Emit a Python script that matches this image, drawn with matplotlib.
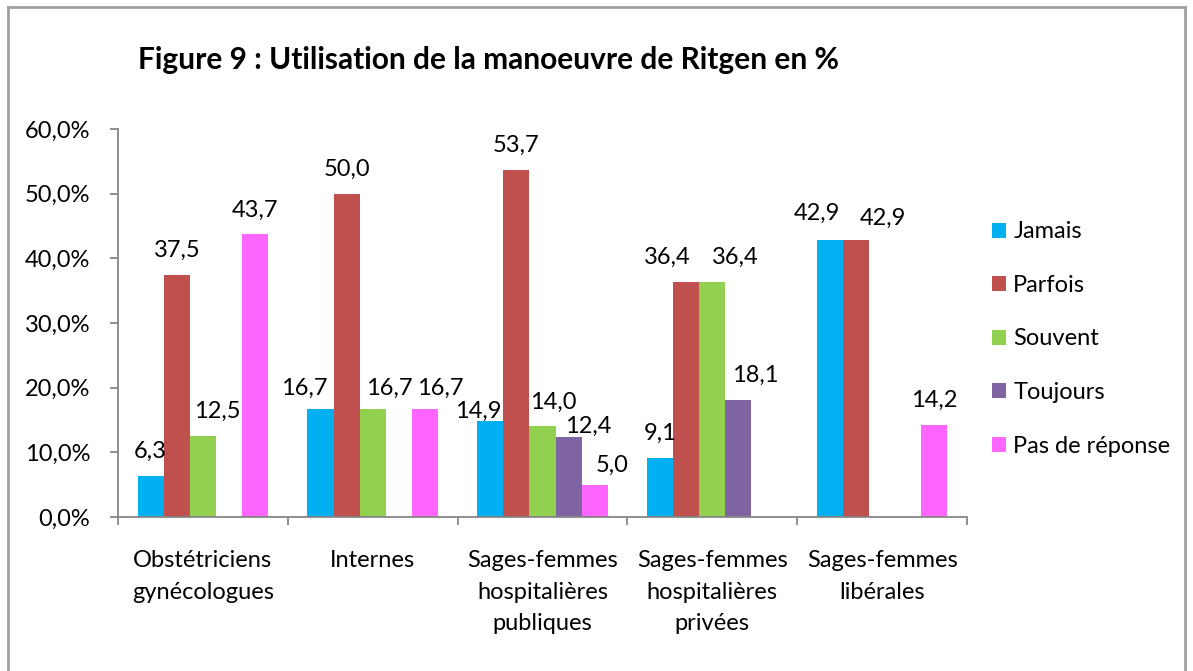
import matplotlib
matplotlib.use("Agg")
import matplotlib.pyplot as plt
from matplotlib.lines import Line2D
from matplotlib.patches import Patch

plt.rcParams['font.family'] = ['Lato', 'DejaVu Sans']

categories = ["Obstétriciens\ngynécologues", "Internes",
              "Sages-femmes\nhospitalières\npubliques",
              "Sages-femmes\nhospitalières\nprivées",
              "Sages-femmes\nlibérales"]
series_names = ["Jamais", "Parfois", "Souvent", "Toujours", "Pas de réponse"]
jamais = [6.3, 16.7, 14.9, 9.1, 42.9]
parfois = [37.5, 50.0, 53.7, 36.4, 42.9]
souvent = [12.5, 16.7, 14.0, 36.4, 0.0]
toujours = [0.0, 0.0, 12.4, 18.1, 0.0]
pas_de_reponse = [43.7, 16.7, 5.0, 0.0, 14.2]
y_ticks = [0, 10, 20, 30, 40, 50, 60]
title = "Figure 9 : Utilisation de la manoeuvre de Ritgen en %"

colors = ["#00B0F0", "#C0504D", "#92D050", "#8064A2", "#FF66FF"]
all_series = [jamais, parfois, souvent, toujours, pas_de_reponse]

# manual label nudges (pixels) keyed by (series, category)
label_nudges = {
    (2, 0): (14, 0),
    (0, 1): (-16, -4), (2, 1): (17, -4), (4, 1): (15, -4),
    (0, 2): (-12, -15), (2, 2): (11, 0), (3, 2): (20, -14), (4, 2): (17, -5),
    (1, 3): (-19, 0), (2, 3): (23, 0), (3, 3): (17, 0),
    (0, 4): (-13, 2), (1, 4): (27, -3),
}

W, H, DPI = 1193, 671, 100
fig = plt.figure(figsize=(W / DPI, H / DPI), dpi=DPI)
ax = fig.add_axes([118 / W, 1 - 517 / H, (967 - 118) / W, (517 - 129) / H])

n = len(series_names)
bw = 1 / 6.5
xs = list(range(len(categories)))
fs = 17
for i, (name, vals, c) in enumerate(zip(series_names, all_series, colors)):
    pos = [x + (i - (n - 1) / 2) * bw for x in xs]
    ax.bar(pos, vals, width=bw, color=c, label=name, linewidth=0)
    for j, (p, v) in enumerate(zip(pos, vals)):
        if v > 0:
            dx, dy = label_nudges.get((i, j), (0, 0))
            ax.annotate(f"{v:.1f}".replace(".", ","), xy=(p, v),
                        xytext=(dx, 18 + dy), textcoords="offset pixels",
                        ha="center", va="baseline", fontsize=fs, color="black")

ax.set_xlim(-0.5, len(categories) - 0.5)
ax.set_ylim(0, 60)
ax.set_yticks(y_ticks)
ax.set_yticklabels([f"{t:.1f}%".replace(".", ",") for t in y_ticks], fontsize=fs)
ax.set_xticks([x - 0.5 for x in range(len(categories) + 1)])
ax.set_xticklabels([])
ax.set_xticks(xs, minor=True)
ax.set_xticklabels(categories, minor=True, fontsize=fs, linespacing=1.6, va="top")
ax.tick_params(axis="x", which="minor", length=0, pad=24)
ax.tick_params(axis="x", which="major", length=6, width=1.3, color="#868686", direction="out")
ax.tick_params(axis="y", length=6, width=1.3, color="#868686", pad=14)
for s in ["top", "right"]:
    ax.spines[s].set_visible(False)
for s in ["left", "bottom"]:
    ax.spines[s].set_color("#868686")
    ax.spines[s].set_linewidth(1.3)

handles = [Patch(facecolor=c, edgecolor="none") for c in colors]
fig.legend(handles, series_names, loc="center left",
           bbox_to_anchor=(992 / W, 1 - 339 / H), frameon=False,
           fontsize=fs, handlelength=0.6, handleheight=0.6,
           handletextpad=0.3, labelspacing=1.38, borderpad=0, borderaxespad=0)

fig.text(138 / W, 1 - 60 / H, title, fontsize=21.5, fontweight="bold",
         ha="left", va="center")

# chart frame
fc = "#A0A0A0"
fig.add_artist(Line2D([8 / W, 8 / W], [-0.05, 1 - 7 / H], color=fc, lw=2, transform=fig.transFigure))
fig.add_artist(Line2D([8 / W, 1185 / W], [1 - 7 / H, 1 - 7 / H], color=fc, lw=2, transform=fig.transFigure))
fig.add_artist(Line2D([1185 / W, 1185 / W], [-0.05, 1 - 7 / H], color=fc, lw=2, transform=fig.transFigure))

fig.savefig("out.png", dpi=DPI)
